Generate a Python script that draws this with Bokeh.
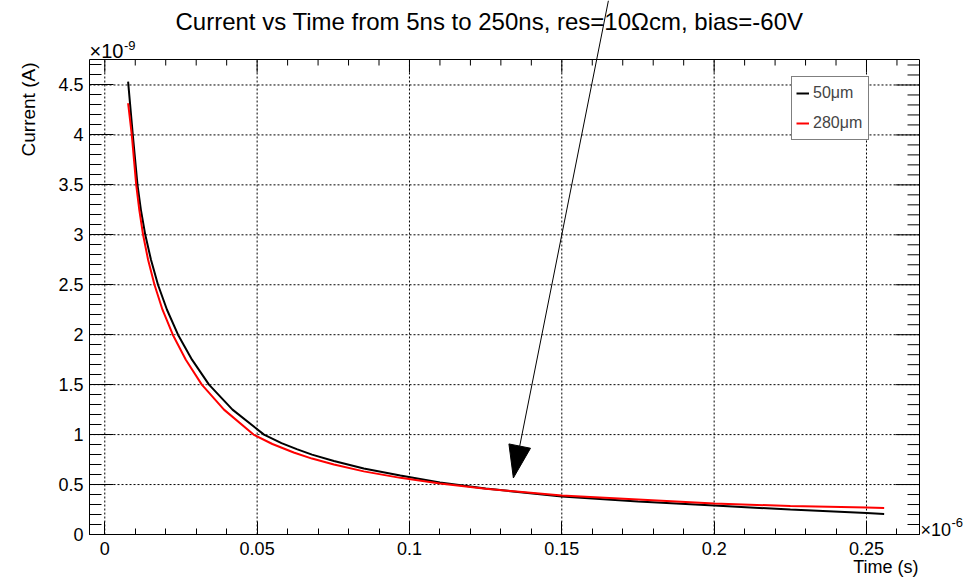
import math
from bokeh.plotting import figure
from bokeh.models import Range1d, FixedTicker, Label, Arrow, Legend, LegendItem
from bokeh.embed import file_html
from bokeh.resources import INLINE

# ---------------- data ----------------
title_text = "Current vs Time from 5ns to 250ns, res=10\u03a9cm, bias=-60V"
x_title = "Time (s)"
y_title = "Current (A)"
x_exponent = "-6"
y_exponent = "-9"
series_names = ["50\u03bcm", "280\u03bcm"]
series_colors = ["#000000", "#ff0000"]

# time in units of 1e-6 s, current in units of 1e-9 A
t_50 = [0.00765, 0.00919, 0.01073, 0.01185, 0.01329, 0.01516, 0.01746,
        0.02041, 0.02403, 0.02862, 0.0342, 0.04191, 0.05225, 0.058, 0.063,
        0.068, 0.0752, 0.085, 0.097, 0.11, 0.125, 0.15, 0.175, 0.2, 0.225,
        0.25, 0.2558]
i_50 = [4.533, 4.0, 3.5, 3.25, 3.0, 2.75, 2.5,
        2.25, 2.0, 1.75, 1.5, 1.25, 1.0, 0.915, 0.855,
        0.80, 0.735, 0.66, 0.59, 0.52, 0.46, 0.38, 0.33, 0.29, 0.25,
        0.214, 0.205]

t_280 = [0.00765, 0.00886, 0.01031, 0.01132, 0.01257, 0.01421, 0.01631,
         0.01894, 0.02232, 0.02659, 0.03184, 0.03912, 0.04881, 0.055, 0.062,
         0.068, 0.0752, 0.085, 0.097, 0.11, 0.125, 0.15, 0.175, 0.2, 0.225,
         0.25, 0.2558]
i_280 = [4.317, 4.0, 3.5, 3.25, 3.0, 2.75, 2.5,
         2.25, 2.0, 1.75, 1.5, 1.25, 1.0, 0.906, 0.821,
         0.76, 0.70, 0.632, 0.567, 0.51, 0.458, 0.39, 0.35, 0.31, 0.285,
         0.27, 0.265]

x_major = [0, 0.05, 0.1, 0.15, 0.2, 0.25]
x_major_labels = ["0", "0.05", "0.1", "0.15", "0.2", "0.25"]
x_minor = [round(0.01 * k, 2) for k in range(0, 27)]
y_major = [0, 0.5, 1, 1.5, 2, 2.5, 3, 3.5, 4, 4.5]
y_major_labels = ["0", "0.5", "1", "1.5", "2", "2.5", "3", "3.5", "4", "4.5"]
y_minor = [round(0.1 * k, 1) for k in range(0, 48)]

arrow_start = (0.1653, 5.345)
arrow_tip = (0.1341, 0.566)

# ---------------- layout ----------------
W, H = 978, 578
FL, FR, FT, FB = 89, 919, 59, 534          # ROOT frame, in pixels
X0, X1 = -0.00502, 0.2674                  # frame x range
Y0, Y1 = 0.0, 4.755                        # frame y range
KX = (FR - FL) / (X1 - X0)
KY = (FB - FT) / (Y1 - Y0)


def dx(px):
    return X0 + (px - FL) / KX


def dy(py):
    return Y0 + (FB - py) / KY


FONT = "Liberation Sans"

# the Bokeh frame covers the whole canvas so that texts and the arrow
# may lie outside the ROOT-like frame without being clipped
p = figure(width=W, height=H, x_range=Range1d(dx(0), dx(W)),
           y_range=Range1d(dy(H), dy(0)),
           output_backend="svg", toolbar_location=None,
           min_border_left=0, min_border_right=0,
           min_border_top=0, min_border_bottom=0)
p.title.visible = False
p.background_fill_color = "white"
p.border_fill_color = "white"
p.outline_line_color = None
p.xgrid.visible = False
p.ygrid.visible = False


def style_axis(ax, ticker, loc, bounds, major_len, minor_len, overrides, standoff):
    ax.ticker = ticker
    ax.fixed_location = loc
    ax.bounds = bounds
    ax.major_tick_in = major_len
    ax.major_tick_out = 0
    ax.minor_tick_in = minor_len
    ax.minor_tick_out = 0
    ax.axis_line_color = "black"
    ax.major_tick_line_color = "black"
    ax.minor_tick_line_color = "black"
    ax.axis_line_width = 1
    ax.major_tick_line_width = 1
    ax.minor_tick_line_width = 1
    ax.axis_label = None
    ax.major_label_text_font = FONT
    ax.major_label_text_font_size = "18px"
    ax.major_label_text_color = "black"
    ax.major_label_standoff = standoff
    ax.major_label_overrides = overrides


x_ticker = FixedTicker(ticks=x_major, minor_ticks=x_minor)
y_ticker = FixedTicker(ticks=y_major, minor_ticks=y_minor)
style_axis(p.xaxis[0], x_ticker, Y0, (X0, X1), 13, 6,
           dict(zip(x_major, x_major_labels)), 7)
style_axis(p.yaxis[0], y_ticker, X0, (Y0, Y1), 24, 12,
           dict(zip(y_major, y_major_labels)), 6)

# grid lines (dotted) at the major ticks, inside the frame only
p.segment(x0=x_major, y0=[Y0] * len(x_major), x1=x_major, y1=[Y1] * len(x_major),
          line_color="black", line_width=1, line_dash="2 2")
p.segment(x0=[X0] * len(y_major), y0=y_major, x1=[X1] * len(y_major), y1=y_major,
          line_color="black", line_width=1, line_dash="2 2")

# right and top sides of the frame, with inward ticks
p.segment(x0=[X1, X0], y0=[Y0, Y1], x1=[X1, X1], y1=[Y1, Y1],
          line_color="black", line_width=1)
y_minor_only = [v for v in y_minor if v not in y_major]
x_minor_only = [v for v in x_minor if v not in x_major]
p.segment(x0=[X1] * len(y_major), y0=y_major,
          x1=[X1 - 24 / KX] * len(y_major), y1=y_major, line_color="black")
p.segment(x0=[X1] * len(y_minor_only), y0=y_minor_only,
          x1=[X1 - 12 / KX] * len(y_minor_only), y1=y_minor_only, line_color="black")
p.segment(x0=x_major, y0=[Y1] * len(x_major),
          x1=x_major, y1=[Y1 - 13 / KY] * len(x_major), line_color="black")
p.segment(x0=x_minor_only, y0=[Y1] * len(x_minor_only),
          x1=x_minor_only, y1=[Y1 - 6 / KY] * len(x_minor_only), line_color="black")

# ---------------- curves ----------------
r50 = p.line(t_50, i_50, line_color=series_colors[0], line_width=2)
r280 = p.line(t_280, i_280, line_color=series_colors[1], line_width=2)

legend = Legend(items=[LegendItem(label=series_names[0], renderers=[r50]),
                       LegendItem(label=series_names[1], renderers=[r280])],
                location=(791, H - 140), orientation="vertical",
                padding=4, spacing=6, margin=0, glyph_width=13,
                glyph_height=24, label_height=24, label_width=51,
                label_standoff=4, label_text_font=FONT,
                label_text_font_size="16px", border_line_color="black",
                border_line_width=1, background_fill_color="white",
                background_fill_alpha=1.0)
p.add_layout(legend)

# ---------------- arrow ----------------
sx = (arrow_tip[0] - arrow_start[0]) * KX
sy = (arrow_tip[1] - arrow_start[1]) * KY
ln = math.hypot(sx, sy)
ux, uy = sx / ln, sy / ln
HEAD_L, HEAD_HW = 32.5, 11.0
bx = arrow_tip[0] - HEAD_L * ux / KX
by = arrow_tip[1] - HEAD_L * uy / KY
head_x = [arrow_tip[0], bx + HEAD_HW * (-uy) / KX, bx - HEAD_HW * (-uy) / KX]
head_y = [arrow_tip[1], by + HEAD_HW * ux / KY, by - HEAD_HW * ux / KY]
p.add_layout(Arrow(end=None, x_start=arrow_start[0], y_start=arrow_start[1],
                   x_end=bx, y_end=by, line_color="black", line_width=1))
p.patch(head_x, head_y, fill_color="black", line_color="black", line_width=1)


# ---------------- texts ----------------
# (px, py) is the wanted baseline point; Bokeh draws the alphabetic
# baseline about a third of the font size lower, so compensate.
def add_label(px, py, text, size, align="left", angle=0.0):
    shift = 0.33 * size
    if angle:
        px -= shift
    else:
        py -= shift
    p.add_layout(Label(x=dx(px), y=dy(py), text=text, text_font=FONT,
                       text_font_size=f"{size}px", text_align=align,
                       text_baseline="alphabetic", angle=angle,
                       text_color="black"))


add_label(489, 28.5, title_text, 24, align="center")
add_label(89, 57.3, "\u00d710", 20)
add_label(123.5, 49, y_exponent, 13)
add_label(920, 535, "\u00d710", 18)
add_label(951, 526, x_exponent, 13)
add_label(918, 572.7, x_title, 18, align="right")
add_label(34, 62, y_title, 19, align="right", angle=math.pi / 2)

open("out.html", "w").write(file_html(p, INLINE))
